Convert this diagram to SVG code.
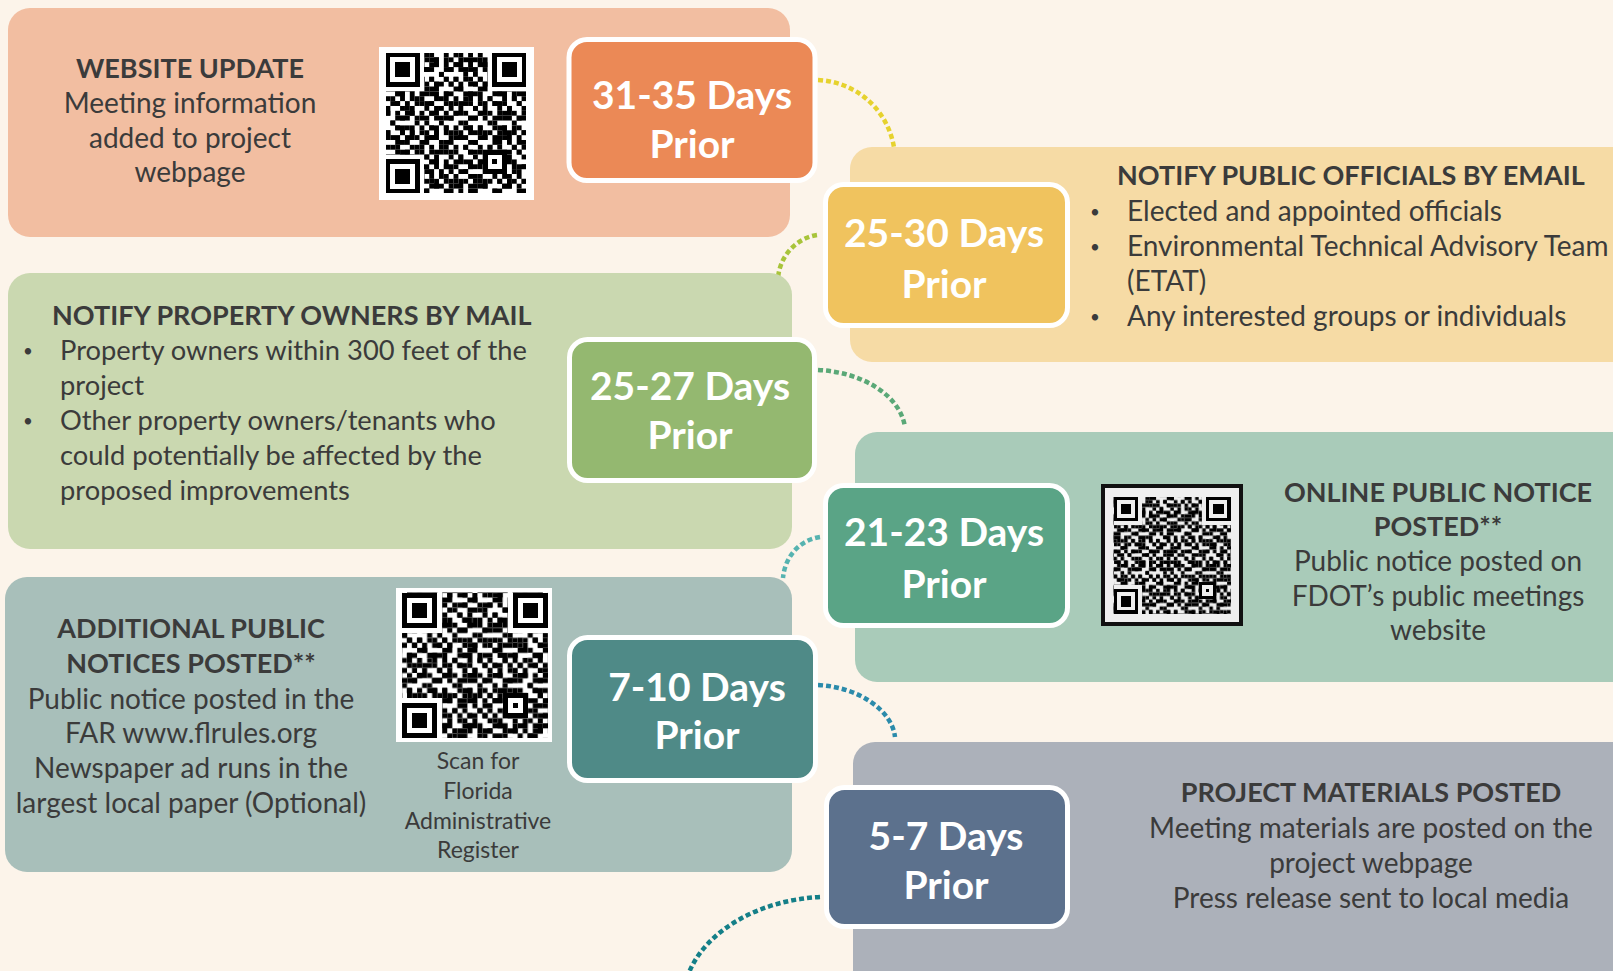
<svg xmlns="http://www.w3.org/2000/svg" xmlns:xlink="http://www.w3.org/1999/xlink" width="1613" height="971" viewBox="0 0 1613 971">
<style>
.t{font-family:Lato,"Open Sans","Liberation Sans",sans-serif;fill:#3b3b3b;font-size:28px}
.hd{font-weight:700;font-size:27px}
.c{text-anchor:middle}
.sm{font-size:23px}
.n{font-size:27.3px}
.bu{font-size:17px}
.day{font-family:Lato,"Open Sans","Liberation Sans",sans-serif;font-weight:700;font-size:39px;fill:#fff;text-anchor:middle}
.box{stroke:#fff;stroke-width:5}
.con{fill:none;stroke-width:4.5;stroke-dasharray:5 3}
.qr{shape-rendering:crispEdges}
</style>
<defs>
<pattern id="q5" width="5" height="5" patternUnits="userSpaceOnUse"><path d="M0 0h2v1h-2z M3 1h2v1h-2z M2 2h1v1h-1z M0 3h1v1h-1z M3 3h1v1h-1z M1 4h1v1h-1z M4 4h1v1h-1z"/></pattern>
<pattern id="q7" width="7" height="7" patternUnits="userSpaceOnUse"><path d="M0 0h1v1h-1z M2 0h1v1h-1z M5 0h1v1h-1z M1 1h1v1h-1z M3 1h2v1h-2z M6 2h1v1h-1z M0 3h1v1h-1z M2 3h1v1h-1z M4 3h1v1h-1z M1 4h1v1h-1z M5 4h2v1h-2z M3 5h1v1h-1z M0 6h1v1h-1z M4 6h2v1h-2z"/></pattern>
<g id="fd"><rect x="0.5" y="0.5" width="6" height="6" fill="none" stroke="#000" stroke-width="1"/><rect x="2" y="2" width="3" height="3" fill="#000"/></g>
<g id="al"><rect x="0.5" y="0.5" width="4" height="4" fill="none" stroke="#000" stroke-width="1"/><rect x="2" y="2" width="1" height="1" fill="#000"/></g>
</defs>
<rect width="1613" height="971" fill="#fcf4ea"/>

<g id="connectors">
<path class="con" stroke="#e6d22e" d="M818,80 C860,82 893,115 895,157"/>
<path class="con" stroke="#a8c43a" d="M817,235 C797,238 780,255 778,278"/>
<path class="con" stroke="#5aa877" d="M818,370 C862,372 900,395 905,427"/>
<path class="con" stroke="#56b3b0" d="M820,537 C800,540 785,556 783,578"/>
<path class="con" stroke="#2b8bab" d="M818,685 C858,687 892,710 895,737"/>
<path class="con" stroke="#147f88" d="M820,897 C760,900 705,930 688,975"/>
</g>

<g id="website-update">
<rect x="8" y="8" width="782" height="229" rx="22" fill="#f2bea1"/>
<text class="t hd c" x="190" y="78">WEBSITE UPDATE</text>
<text class="t c" x="190" y="113">Meeting information</text>
<text class="t c" x="190" y="148">added to project</text>
<text class="t c" x="190" y="182">webpage</text>
<rect x="379" y="47" width="155" height="153" fill="#fff"/>
<g class="qr" transform="translate(385.5,52.5) scale(4.86)">
<g transform="translate(-1,-3)"><rect x="1" y="3" width="29" height="29" fill="url(#q5)"/></g>
<g transform="translate(-2,-5)"><rect x="2" y="5" width="29" height="29" fill="url(#q7)"/></g>
<rect x="0" y="0" width="8" height="8" fill="#fff"/><rect x="21" y="0" width="8" height="8" fill="#fff"/><rect x="0" y="21" width="8" height="8" fill="#fff"/>
<rect x="20" y="20" width="5" height="5" fill="#fff"/>
<use xlink:href="#fd" x="0" y="0"/><use xlink:href="#fd" x="22" y="0"/><use xlink:href="#fd" x="0" y="22"/><use xlink:href="#al" x="20" y="20"/>
</g>
<rect class="box" x="569" y="39.5" width="246" height="141" rx="18" fill="#eb8956"/>
<text class="day" x="692" y="109">31-35 Days</text>
<text class="day" x="692" y="158">Prior</text>
</g>

<g id="notify-officials">
<rect x="850" y="147" width="800" height="215" rx="22" fill="#f6dba5"/>
<text class="t hd" x="1117" y="185">NOTIFY PUBLIC OFFICIALS BY EMAIL</text>
<text class="t bu" x="1090" y="218">•</text><text class="t" x="1127" y="221">Elected and appointed officials</text>
<text class="t bu" x="1090" y="253">•</text><text class="t" x="1127" y="256">Environmental Technical Advisory Team</text>
<text class="t" x="1127" y="291">(ETAT)</text>
<text class="t bu" x="1090" y="323">•</text><text class="t" x="1127" y="326">Any interested groups or individuals</text>
<rect class="box" x="825.5" y="184.5" width="242" height="141" rx="18" fill="#f0c35e"/>
<text class="day" x="944" y="247">25-30 Days</text>
<text class="day" x="944" y="298">Prior</text>
</g>

<g id="notify-owners">
<rect x="8" y="273" width="784" height="276" rx="22" fill="#cad8b0"/>
<text class="t hd" x="52" y="325">NOTIFY PROPERTY OWNERS BY MAIL</text>
<text class="t bu" x="23" y="357">•</text><text class="t n" x="60" y="360">Property owners within 300 feet of the</text>
<text class="t n" x="60" y="395">project</text>
<text class="t bu" x="23" y="427">•</text><text class="t n" x="60" y="430">Other property owners/tenants who</text>
<text class="t n" x="60" y="465">could potentially be affected by the</text>
<text class="t n" x="60" y="500">proposed improvements</text>
<rect class="box" x="569.5" y="339.5" width="245" height="141" rx="18" fill="#94b870"/>
<text class="day" x="690" y="400">25-27 Days</text>
<text class="day" x="690" y="449">Prior</text>
</g>

<g id="online-notice">
<rect x="855" y="432" width="800" height="250" rx="22" fill="#a9cbb9"/>
<rect x="1101" y="484" width="142" height="142" fill="#111"/>
<rect x="1105" y="488" width="134" height="134" fill="#efefef"/>
<g class="qr" transform="translate(1113.5,496.5) scale(3.55)">
<g transform="translate(-3,-1)"><rect x="3" y="1" width="33" height="33" fill="url(#q5)"/></g>
<g transform="translate(-4,-2)"><rect x="4" y="2" width="33" height="33" fill="url(#q7)"/></g>
<rect x="0" y="0" width="8" height="8" fill="#efefef"/><rect x="25" y="0" width="8" height="8" fill="#efefef"/><rect x="0" y="25" width="8" height="8" fill="#efefef"/>
<rect x="24" y="24" width="5" height="5" fill="#efefef"/>
<use xlink:href="#fd" x="0" y="0"/><use xlink:href="#fd" x="26" y="0"/><use xlink:href="#fd" x="0" y="26"/><use xlink:href="#al" x="24" y="24"/>
</g>
<text class="t hd c" x="1438" y="502">ONLINE PUBLIC NOTICE</text>
<text class="t hd c" x="1438" y="536">POSTED**</text>
<text class="t c" x="1438" y="571">Public notice posted on</text>
<text class="t c" x="1438" y="606">FDOT’s public meetings</text>
<text class="t c" x="1438" y="640">website</text>
<rect class="box" x="825.5" y="485.5" width="242" height="140" rx="18" fill="#5aa486"/>
<text class="day" x="944" y="546">21-23 Days</text>
<text class="day" x="944" y="598">Prior</text>
</g>

<g id="additional-notices">
<rect x="5" y="577" width="787" height="295" rx="22" fill="#a8bfba"/>
<text class="t hd c" x="191" y="638">ADDITIONAL PUBLIC</text>
<text class="t hd c" x="191" y="673">NOTICES POSTED**</text>
<text class="t c" x="191" y="709">Public notice posted in the</text>
<text class="t c" x="191" y="743">FAR www.flrules.org</text>
<text class="t c" x="191" y="778">Newspaper ad runs in the</text>
<text class="t c" x="191" y="813">largest local paper (Optional)</text>
<rect x="396" y="588" width="156" height="154" fill="#fff"/>
<g class="qr" transform="translate(402,592.5) scale(5.03)">
<g transform="translate(-2,-4)"><rect x="2" y="4" width="29" height="29" fill="url(#q5)"/></g>
<g transform="translate(-6,-1)"><rect x="6" y="1" width="29" height="29" fill="url(#q7)"/></g>
<rect x="0" y="0" width="8" height="8" fill="#fff"/><rect x="21" y="0" width="8" height="8" fill="#fff"/><rect x="0" y="21" width="8" height="8" fill="#fff"/>
<rect x="20" y="20" width="5" height="5" fill="#fff"/>
<use xlink:href="#fd" x="0" y="0"/><use xlink:href="#fd" x="22" y="0"/><use xlink:href="#fd" x="0" y="22"/><use xlink:href="#al" x="20" y="20"/>
</g>
<text class="t sm c" x="478" y="769">Scan for</text>
<text class="t sm c" x="478" y="799">Florida</text>
<text class="t sm c" x="478" y="829">Administrative</text>
<text class="t sm c" x="478" y="858">Register</text>
<rect class="box" x="569.5" y="637.5" width="246" height="143" rx="18" fill="#4f8a87"/>
<text class="day" x="697" y="701">7-10 Days</text>
<text class="day" x="697" y="749">Prior</text>
</g>

<g id="project-materials">
<rect x="853" y="742" width="800" height="260" rx="22" fill="#acb1ba"/>
<text class="t hd c" x="1371" y="802">PROJECT MATERIALS POSTED</text>
<text class="t c" x="1371" y="838">Meeting materials are posted on the</text>
<text class="t c" x="1371" y="873">project webpage</text>
<text class="t c" x="1371" y="908">Press release sent to local media</text>
<rect class="box" x="826.5" y="787.5" width="241" height="139" rx="18" fill="#5c718d"/>
<text class="day" x="946" y="850">5-7 Days</text>
<text class="day" x="946" y="899">Prior</text>
</g>
</svg>
